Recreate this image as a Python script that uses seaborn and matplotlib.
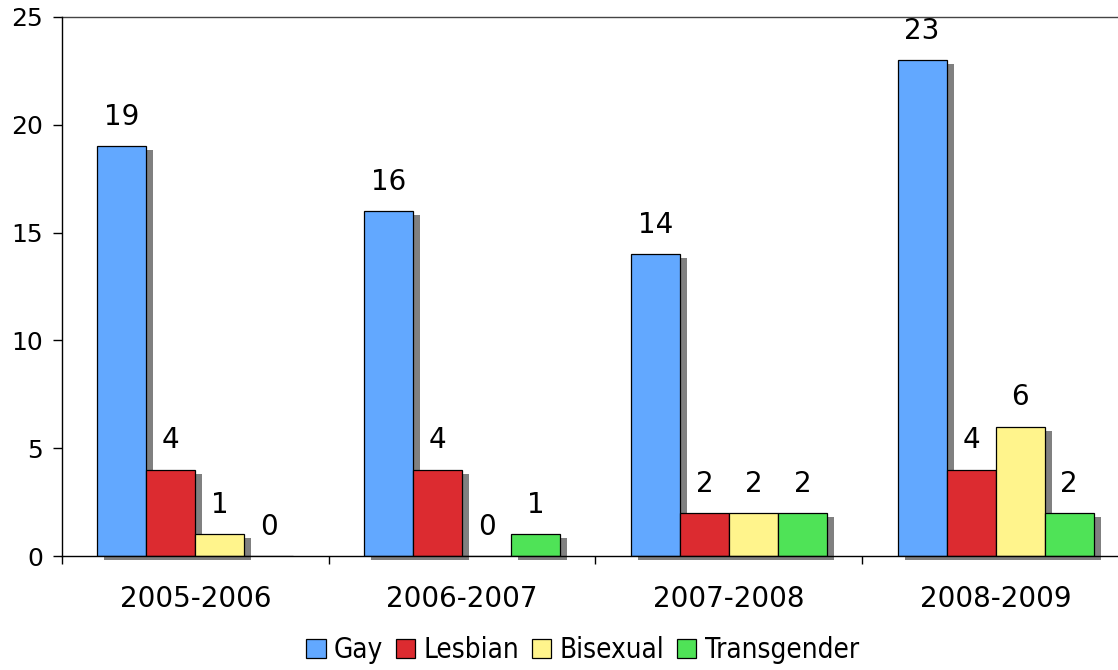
import numpy as np
import pandas as pd

import matplotlib
matplotlib.use("Agg")
import matplotlib.pyplot as plt
import matplotlib.patches as mpatches
import matplotlib.transforms as mtransforms
from matplotlib.font_manager import FontProperties
import seaborn as sns

# values
years = ["2005-2006", "2006-2007", "2007-2008", "2008-2009"]
groups = ["Gay", "Lesbian", "Bisexual", "Transgender"]

gay = [19, 16, 14, 23]
lesbian = [4, 4, 2, 4]
bisexual = [1, 0, 2, 6]
transgender = [0, 1, 2, 2]

colors = ["#62A8FF", "#DC2B30", "#FFF48C", "#4FE357"]

rows = []
for name, values in zip(groups, [gay, lesbian, bisexual, transgender]):
    for year, v in zip(years, values):
        rows.append({"Year": year, "Group": name, "Count": v})
df = pd.DataFrame(rows)

sns.set_style("white", {
    "text.color": "black",
    "xtick.color": "black",
    "ytick.color": "black",
    "axes.labelcolor": "black"
})
plt.rcParams["font.family"] = ["DejaVu Sans"]

fig = plt.figure(figsize=(11.18, 6.70), dpi=100)
ax = fig.add_axes([62 / 1118, 1 - 556 / 670, 1067 / 1118, 539 / 670])

sns.barplot(
    data=df,
    x="Year",
    y="Count",
    hue="Group",
    hue_order=groups,
    order=years,
    palette=colors,
    width=0.735,
    gap=0,
    edgecolor="black",
    linewidth=0.9,
    saturation=1,
    legend=False,
    ax=ax
)

# grey drop shadow behind each bar, offset right and down
offset = mtransforms.ScaledTranslation(7 / 100, -4 / 100, fig.dpi_scale_trans)
for bar in list(ax.patches):
    if bar.get_height() == 0:
        continue
    shadow = mpatches.Rectangle(
        bar.get_xy(),
        bar.get_width(),
        bar.get_height(),
        transform=ax.transData + offset,
        facecolor="#808080",
        edgecolor="none",
        zorder=0.5,
        clip_on=False
    )
    ax.add_patch(shadow)

for container in ax.containers:
    ax.bar_label(container, padding=11, fontsize=20, color="black")

ax.set_ylim(0, 25)
ax.set_xlim(-0.5, 3.5)
ax.set_yticks([0, 5, 10, 15, 20, 25])
ax.set_xlabel("")
ax.set_ylabel("")

ax.set_xticks(np.arange(-0.5, 4, 1), minor=True)
ax.tick_params(axis="x", which="major", length=0, pad=21, labelsize=20)
ax.tick_params(axis="x", which="minor", length=6, width=1, direction="out",
               color="black", bottom=True)
ax.tick_params(axis="y", length=6.5, width=1, direction="out", color="black",
               pad=7, labelsize=18, left=True)

for side in ["left", "bottom"]:
    ax.spines[side].set_color("black")
    ax.spines[side].set_linewidth(1)
    ax.spines[side].set_zorder(3)
ax.spines["top"].set_color("#444444")
ax.spines["top"].set_linewidth(1)
ax.spines["right"].set_visible(False)

handles = [
    mpatches.Patch(facecolor=c, edgecolor="black", linewidth=0.9, label=g)
    for c, g in zip(colors, groups)
]
legend_font = FontProperties(family="DejaVu Sans", stretch="condensed", size=20)
fig.legend(
    handles=handles,
    loc="lower center",
    bbox_to_anchor=(0.521, -0.016),
    ncol=4,
    frameon=False,
    prop=legend_font,
    handlelength=0.7,
    handleheight=0.7,
    handletextpad=0.3,
    columnspacing=0.45,
    borderaxespad=0.2
)

fig.savefig("out.png", dpi=100)
